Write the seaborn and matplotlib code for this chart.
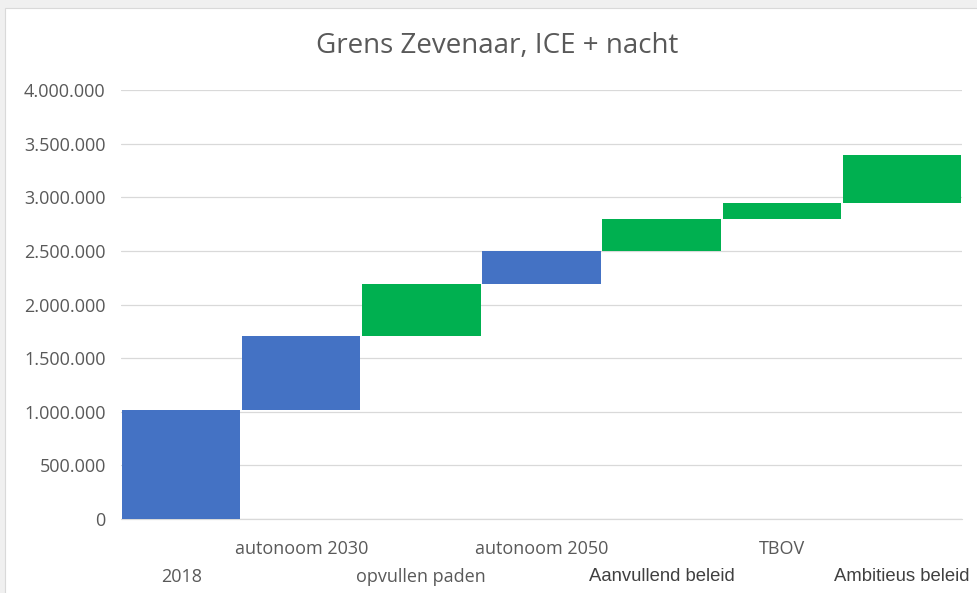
import matplotlib
matplotlib.use("Agg")
import matplotlib.pyplot as plt
from matplotlib.patches import Rectangle
from matplotlib.ticker import FuncFormatter
import seaborn as sns
import pandas as pd
import numpy as np

categories = ["2018", "autonoom 2030", "opvullen paden", "autonoom 2050",
              "Aanvullend beleid", "TBOV", "Ambitieus beleid"]
increments = [1015000, 693000, 482000, 310000, 300000, 146000, 444000]
kinds = ["blue", "blue", "green", "blue", "green", "green", "green"]
yticks = [0, 500000, 1000000, 1500000, 2000000, 2500000, 3000000, 3500000, 4000000]

colors = {"blue": "#4472C4", "green": "#00B050"}
bases = np.concatenate([[0], np.cumsum(increments)[:-1]])
df = pd.DataFrame({"cat": categories, "inc": increments, "base": bases, "kind": kinds})

sns.set_theme(style="white")
plt.rcParams["font.family"] = ["Open Sans", "DejaVu Sans"]

W, H = 977, 593
fig = plt.figure(figsize=(W / 100, H / 100), dpi=100, facecolor="#f0f0f0")
bg = Rectangle((5 / W, -0.1), 1.0, 1.1 - 8 / H, transform=fig.transFigure,
               facecolor="white", edgecolor="#d9d9d9", linewidth=0.8, zorder=-10)
fig.patches.append(bg)
ax = fig.add_axes([121 / W, 1 - 519 / H, (962 - 121) / W, (519 - 90) / H])
ax.set_facecolor("none")
ax.set_zorder(1)

sns.barplot(data=df, x="cat", y="inc", bottom=df["base"].values, color=colors["blue"],
            width=0.985, ax=ax, order=categories, errorbar=None, linewidth=0, zorder=3)
for patch, k in zip(ax.patches, kinds):
    patch.set_facecolor(colors[k])
    patch.set_edgecolor("none")

ax.set_ylim(0, 4000000)
ax.set_xlim(-0.5, len(categories) - 0.5)
ax.set_yticks(yticks)
ax.yaxis.set_major_formatter(FuncFormatter(lambda v, p: f"{int(v):,}".replace(",", ".")))
ax.grid(axis="y", color="#d9d9d9", linewidth=0.9, zorder=0)
ax.axhline(0, color="#d9d9d9", linewidth=0.9, zorder=1, clip_on=False)
ax.set_axisbelow(True)
for s in ax.spines.values():
    s.set_visible(False)
ax.set_xlabel("")
ax.set_ylabel("")
ax.tick_params(axis="y", length=0, pad=11, labelsize=13, labelcolor="#595959")
ax.tick_params(axis="x", length=0, labelsize=13, labelcolor="#595959")

ax.set_xticks(range(len(categories)))
ax.set_xticklabels(categories)
for i, (tick, lbl) in enumerate(zip(ax.xaxis.get_major_ticks(), ax.get_xticklabels())):
    tick.set_pad(35 if i % 2 == 0 else 15)
    if categories[i] in ("Aanvullend beleid", "Ambitieus beleid"):
        lbl.set_fontfamily(["Liberation Sans", "DejaVu Sans"])
        lbl.set_fontsize(13.3)
        lbl.set_color("#404040")

fig.text(497 / W, 1 - 46 / H, "Grens Zevenaar, ICE + nacht", ha="center", va="center",
         fontsize=20, color="#595959")

fig.savefig("out.png", dpi=100, facecolor=fig.get_facecolor())
